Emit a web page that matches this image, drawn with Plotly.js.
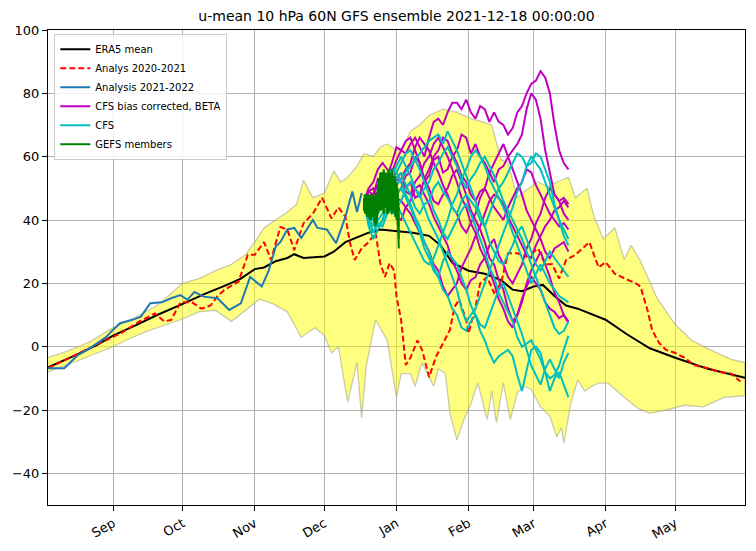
<!DOCTYPE html>
<html><head><meta charset="utf-8">
<script src="https://cdn.plot.ly/plotly-3.0.1.min.js"></script>
<style>html,body{margin:0;padding:0;background:#fff}#chart{width:756px;height:551px}</style>
</head><body><div id="chart"></div>
<script>
const titleText = "u-mean 10 hPa 60N GFS ensemble 2021-12-18 00:00:00";
const seriesNames = ["ERA5 mean","Analys 2020-2021","Analysis 2021-2022","CFS bias corrected, BETA","CFS","GEFS members"];
const monthTickVals = ["2021-09-01","2021-10-01","2021-11-01","2021-12-01","2022-01-01","2022-02-01","2022-03-01","2022-04-01","2022-05-01"];
const monthTickText = ["Sep","Oct","Nov","Dec","Jan","Feb","Mar","Apr","May"];
const yTickVals = [-40,-20,0,20,40,60,80,100];

const bandUpper = [["2021-08-04",-3.5],["2021-08-12",-1.5],["2021-08-22",1.5],["2021-09-01",6],["2021-09-10",9],["2021-09-20",13],["2021-10-01",20],["2021-10-08",21.5],["2021-10-15",24],["2021-10-22",26],["2021-10-28",29],["2021-11-01",33],["2021-11-05",37.5],["2021-11-10",40],["2021-11-15",42.5],["2021-11-19",45],["2021-11-22",52.5],["2021-11-26",47],["2021-12-01",48.5],["2021-12-05",55.5],["2021-12-08",52],["2021-12-11",53.5],["2021-12-15",57],["2021-12-18",61],["2021-12-22",60],["2021-12-25",63],["2021-12-28",64],["2022-01-01",62],["2022-01-04",63],["2022-01-07",68],["2022-01-11",70],["2022-01-15",73],["2022-01-21",75],["2022-01-27",74],["2022-02-02",72],["2022-02-07",71],["2022-02-11",70],["2022-02-15",59],["2022-02-18",58],["2022-02-22",47],["2022-02-25",49],["2022-03-03",52],["2022-03-07",50.5],["2022-03-11",52],["2022-03-16",53.5],["2022-03-19",47],["2022-03-24",50],["2022-03-27",41],["2022-03-31",34],["2022-04-05",37.5],["2022-04-09",27.5],["2022-04-12",32],["2022-04-16",27],["2022-04-20",20.5],["2022-04-23",15.5],["2022-05-01",7],["2022-05-08",2],["2022-05-16",-1],["2022-05-25",-4],["2022-05-31",-5]];
const bandLower = [["2021-08-04",-8],["2021-08-15",-5],["2021-08-25",-2],["2021-09-01",0],["2021-09-08",2.5],["2021-09-16",5],["2021-09-24",7],["2021-09-30",8.5],["2021-10-08",11],["2021-10-15",11.5],["2021-10-22",8],["2021-10-28",11.5],["2021-11-03",15],["2021-11-09",13.5],["2021-11-15",11],["2021-11-21",3],["2021-11-27",6],["2021-12-01",3.5],["2021-12-04",-2],["2021-12-07",0],["2021-12-11",-17.5],["2021-12-15",-5],["2021-12-17",-22.5],["2021-12-19",-6],["2021-12-23",8.5],["2021-12-28",2],["2022-01-01",-16],["2022-01-03",-8.5],["2022-01-07",-8.5],["2022-01-09",-12.5],["2022-01-12",-5],["2022-01-17",-12.5],["2022-01-19",-7],["2022-01-22",-8.5],["2022-01-24",-21],["2022-01-27",-29.5],["2022-01-30",-23],["2022-02-02",-18],["2022-02-05",-11.5],["2022-02-09",-23],["2022-02-11",-14],["2022-02-13",-24],["2022-02-16",-11.5],["2022-02-19",-23],["2022-02-22",-14.5],["2022-02-25",-12.5],["2022-02-28",-13.5],["2022-03-04",-19],["2022-03-08",-22],["2022-03-11",-28.5],["2022-03-13",-25.5],["2022-03-14",-30.5],["2022-03-17",-18],["2022-03-20",-10.5],["2022-03-23",-14],["2022-03-26",-12.5],["2022-03-29",-11.5],["2022-04-02",-11.5],["2022-04-09",-16],["2022-04-15",-19.5],["2022-04-20",-21],["2022-04-27",-20],["2022-05-05",-18.5],["2022-05-13",-19],["2022-05-22",-16],["2022-05-31",-15.5]];

const era5Mean = [["2021-08-04",-6.5],["2021-08-15",-3],["2021-08-25",0.5],["2021-09-01",3.5],["2021-09-10",6.5],["2021-09-20",10],["2021-10-01",13.5],["2021-10-10",16.5],["2021-10-20",19.5],["2021-10-26",21.5],["2021-11-01",24.5],["2021-11-05",25],["2021-11-10",27],["2021-11-15",28],["2021-11-18",29.2],["2021-11-22",28],["2021-12-01",28.5],["2021-12-05",30],["2021-12-10",33],["2021-12-15",34.5],["2021-12-20",36],["2021-12-25",37],["2022-01-01",36.5],["2022-01-08",36],["2022-01-15",35],["2022-01-20",32],["2022-01-25",26.5],["2022-02-01",24],["2022-02-08",23],["2022-02-15",21],["2022-02-20",18],["2022-02-24",17.5],["2022-03-01",19],["2022-03-05",19.5],["2022-03-10",16],["2022-03-15",13],["2022-03-20",12],["2022-04-01",8.5],["2022-04-10",4],["2022-04-20",-0.5],["2022-05-01",-3.5],["2022-05-15",-7],["2022-05-31",-9.8]];

const analys2020 = [["2021-08-04",-6.8],["2021-08-12",-4],["2021-08-21",-1],["2021-09-01",3],["2021-09-05",4.5],["2021-09-12",7.8],["2021-09-19",10.5],["2021-09-23",8],["2021-09-26",8.4],["2021-09-30",14],["2021-10-05",14],["2021-10-09",12],["2021-10-13",13],["2021-10-16",16],["2021-10-19",18],["2021-10-25",20.5],["2021-10-29",29],["2021-11-01",29],["2021-11-05",33],["2021-11-08",27.4],["2021-11-12",37.8],["2021-11-15",37],["2021-11-18",30.5],["2021-11-22",39],["2021-11-26",42],["2021-11-30",47],["2021-12-04",40.5],["2021-12-07",44],["2021-12-10",41],["2021-12-12",32.7],["2021-12-14",27.4],["2021-12-17",31],["2021-12-20",33],["2021-12-23",36],["2021-12-25",26.4],["2021-12-27",22],["2021-12-29",26.4],["2021-12-31",24],["2022-01-01",15.8],["2022-01-03",8.4],["2022-01-05",-5.8],["2022-01-07",-3.5],["2022-01-10",2],["2022-01-12",-1],["2022-01-15",-9.6],["2022-01-18",-3.2],["2022-01-21",1.2],["2022-01-24",5.3],["2022-01-26",12.6],["2022-01-28",14.8],["2022-01-31",8.4],["2022-02-01",4.2],["2022-02-04",12.6],["2022-02-06",20],["2022-02-09",22],["2022-02-12",17],["2022-02-15",20],["2022-02-18",29.5],["2022-02-22",29.5],["2022-02-26",28.4],["2022-03-03",31],["2022-03-06",26],["2022-03-09",26],["2022-03-12",21.5],["2022-03-15",27.4],["2022-03-19",29],["2022-03-22",31],["2022-03-25",33],["2022-03-28",27],["2022-03-29",25],["2022-04-01",26.7],["2022-04-05",23],["2022-04-09",21.6],["2022-04-14",20],["2022-04-16",19],["2022-04-19",11.6],["2022-04-21",5.3],["2022-04-24",1.2],["2022-04-27",-1],["2022-05-01",-2],["2022-05-05",-3.5],["2022-05-09",-5.8],["2022-05-15",-6.8],["2022-05-20",-8],["2022-05-25",-8.5],["2022-05-29",-11]];

const analysis2021 = [["2021-08-04",-6.8],["2021-08-11",-6.8],["2021-08-17",-2.6],["2021-08-21",-1],["2021-08-24",0.5],["2021-08-29",3],["2021-08-31",4.6],["2021-09-04",7.4],["2021-09-09",8.4],["2021-09-13",9.5],["2021-09-17",13.7],["2021-09-22",14],["2021-09-26",15.3],["2021-09-30",16.3],["2021-10-03",14.8],["2021-10-06",17.3],["2021-10-10",15.8],["2021-10-16",15.3],["2021-10-21",11.6],["2021-10-26",13.7],["2021-10-30",22],["2021-11-04",19],["2021-11-07",24],["2021-11-10",31.6],["2021-11-12",33],["2021-11-15",37],["2021-11-18",37.5],["2021-11-21",34.3],["2021-11-26",40],["2021-11-28",37.5],["2021-12-02",37],["2021-12-06",32.7],["2021-12-10",41],["2021-12-13",49],["2021-12-15",42.5],["2021-12-17",48.5]];

const fcDates = ["2021-12-18","2021-12-20","2021-12-22","2021-12-24","2021-12-26","2021-12-28","2021-12-30","2022-01-01","2022-01-03","2022-01-05","2022-01-07","2022-01-09","2022-01-11","2022-01-13","2022-01-15","2022-01-17","2022-01-19","2022-01-21","2022-01-23","2022-01-25","2022-01-27","2022-01-29","2022-01-31","2022-02-02","2022-02-04","2022-02-06","2022-02-08","2022-02-10","2022-02-12","2022-02-14","2022-02-16","2022-02-18","2022-02-20","2022-02-22","2022-02-24","2022-02-26","2022-02-28","2022-03-02","2022-03-04","2022-03-06","2022-03-08","2022-03-10","2022-03-12","2022-03-14","2022-03-16"];
const cfsBc1 = [45,49,48,53,52,54,58,63,62,61,64,66,63,60,66,71,72,70,74,77,77,75,78,74,72,76,75,71,74,71,70,67,69,74,76,80,83,84,87,85,80,70,62,58,56];
const cfsBc2 = [44,40,42,46,47,50,52,48,50,54,55,60,58,52,54,59,60,55,56,60,62,67,66,61,64,60,58,55,52,56,57,60,62,64,67,75,80,78,72,62,55,48,46,47,45];
const cfsBc3 = [46,49,50,46,45,44,48,53,55,50,52,47,48,53,56,60,62,66,65,61,58,54,52,48,46,49,50,47,44,42,40,44,47,50,52,56,55,51,48,45,42,40,38,39,37];
const cfsBc4 = [45,44,42,46,48,45,44,41,40,44,46,50,51,48,45,41,38,35,32,27,24,20,18,21,22,26,28,24,20,15,12,8,6,10,15,19,22,20,18,14,12,11,9,10,7.5];
const cfsBc5 = [44,47,48,51,53,52,50,47,46,44,42,39,36,33,30,26,24,19,16,18,20,25,28,31,35,38,42,46,48,47,45,41,38,35,32,29,28,32,35,38,40,43,44,46,44];
const cfsBc6 = [46,50,52,56,58,56,55,59,62,65,66,62,58,53,50,46,45,48,50,54,56,52,48,43,40,37,33,28,26,21,18,12,8,10,14,20,24,27,30,26,22,17,14,10,8];
const cfsBc7 = [45,42,40,43,44,47,48,51,53,56,58,63,66,64,62,58,55,51,48,44,42,38,36,39,42,47,50,55,58,61,64,60,56,52,48,43,40,37,34,30,28,31,32,33,30];
const cfsBc8 = [44,47,46,49,50,54,56,53,52,49,48,52,54,58,60,64,66,63,60,56,52,47,44,39,36,31,28,32,34,29,26,22,20,23,26,31,34,39,42,47,50,48,46,42,40];
const cfs1 = [47,40,36,40,42,47,50,53,55,51,48,44,42,45,46,50,52,49,47,44,42,46,48,46,44,40,38,42,46,50,52,55,58,61,60,57,58,61,60,56,52,45,40,35,32];
const cfs2 = [46,42,40,46,50,54,56,55,52,48,45,41,38,33,30,25,22,18,16,12,10,6,5,8,10,5,2,-2,-5,-3,-2,-1,-3,-9,-14,-7,-1,0,-2,-8,-14,-10,-8,-12,-16];
const cfs3 = [45,41,38,42,45,49,52,55,58,61,62,59,56,52,48,43,40,36,34,37,40,43,45,42,38,34,30,25,22,17,14,11,8,3,0,1,2,-1,-4,-8,-10,-9,-6,-1,3.5];
const cfs4 = [48,44,42,38,40,44,47,51,53,55,57,59,61,63,65,66,67,64,68,65,62,58,54,50,46,42,38,33,30,27,26,29,32,36,38,34,30,26,24,27,30,28,26,24,22];
const cfs5 = [46,38,34,37,40,44,46,45,42,39,36,33,30,27,26,28,32,36,40,45,48,53,56,60,62,60,57,53,50,47,44,40,36,32,28,24,20,23,26,23,20,18,16,15,14];
const cfs6 = [47,45,44,47,48,45,42,44,46,50,52,50,48,44,40,37,34,30,26,22,18,12,8,10,12,16,20,24,28,32,36,40,44,49,52,57,60,58,56,52,48,44,40,37,34];
const cfs7 = [48,43,40,44,46,51,54,57,60,57,54,50,47,50,52,56,58,61,63,60,57,53,50,53,55,58,60,57,54,50,46,43,40,37,34,30,26,22,18,14,10,6,4,5,8];
const cfs8 = [46,40,36,39,38,42,44,48,50,47,44,40,36,31,28,24,22,27,30,28,26,22,18,13,10,7,6,10,14,18,20,16,12,8,4,-1,-6,-9,-12,-7,-4,-7,-10,-5,-2];

const gefsDates = ["2021-12-18 00:00","2021-12-18 12:00","2021-12-19 00:00","2021-12-19 12:00","2021-12-20 00:00","2021-12-20 12:00","2021-12-21 00:00","2021-12-21 12:00","2021-12-22 00:00","2021-12-22 12:00","2021-12-23 00:00","2021-12-23 12:00","2021-12-24 00:00","2021-12-24 12:00","2021-12-25 00:00","2021-12-25 12:00","2021-12-26 00:00","2021-12-26 12:00","2021-12-27 00:00","2021-12-27 12:00","2021-12-28 00:00","2021-12-28 12:00","2021-12-29 00:00","2021-12-29 12:00","2021-12-30 00:00","2021-12-30 12:00","2021-12-31 00:00","2021-12-31 12:00","2022-01-01 00:00","2022-01-01 12:00","2022-01-02 00:00"];
const gefs1 = [45,47,43,46,42,48,44,41,46,43,40,45,50,44,52,47,55,49,44,53,47,56,50,45,52,48,44,50,43,46,38];
const gefs2 = [44,42,46,44,48,43,47,45,41,44,48,42,46,51,45,55,48,42,50,54,46,51,43,55,47,52,45,41,48,42,44];
const gefs3 = [46,44,42,47,45,41,43,48,44,39,42,47,43,53,49,45,52,56,48,44,51,46,53,48,42,50,54,46,40,44,31];
const gefs4 = [43,46,45,42,47,44,40,43,47,45,38,44,49,46,55,50,45,49,53,47,42,49,55,50,44,47,51,43,47,39,36];
const gefs5 = [47,45,48,43,41,46,45,42,45,47,43,40,47,52,48,43,50,46,55,49,53,44,48,52,56,45,48,53,45,41,40];
const gefs6 = [44,48,44,45,43,40,46,44,42,46,45,48,42,47,51,46,54,44,47,51,45,53,47,43,49,54,46,49,51,47,43];
const gefs7 = [45,43,47,41,45,43,48,46,43,41,47,44,45,49,43,48,52,55,46,50,48,42,51,47,53,44,49,47,42,50,34];
const gefs8 = [46,44,42,46,44,47,42,45,48,42,44,39,48,45,50,53,47,51,49,45,55,50,44,49,46,51,42,48,52,45,41];

const cfsBcMembers = [cfsBc1,cfsBc2,cfsBc3,cfsBc4,cfsBc5,cfsBc6,cfsBc7,cfsBc8];
const cfsMembers = [cfs1,cfs2,cfs3,cfs4,cfs5,cfs6,cfs7,cfs8];
const gefsMembers = [gefs1,gefs2,gefs3,gefs4,gefs5,gefs6,gefs7,gefs8];

const traces = [];
const bx = bandUpper.map(p=>p[0]).concat(bandLower.slice().reverse().map(p=>p[0]));
const by = bandUpper.map(p=>p[1]).concat(bandLower.slice().reverse().map(p=>p[1]));
traces.push({x:bx,y:by,type:'scatter',mode:'lines',fill:'toself',fillcolor:'rgba(255,255,0,0.5)',
  line:{color:'rgba(160,160,140,0.55)',width:1.3},showlegend:false,hoverinfo:'skip'});

function lineTrace(pairs,name,color,dash,rank){
  return {x:pairs.map(p=>p[0]),y:pairs.map(p=>p[1]),type:'scatter',mode:'lines',name:name,
    line:{color:color,width:2,dash:dash||'solid'},legendrank:rank};
}
traces.push(lineTrace(era5Mean,seriesNames[0],'#000000',null,1));
traces.push(lineTrace(analys2020,seriesNames[1],'#ff0000','6px,3px',2));
traces.push(lineTrace(analysis2021,seriesNames[2],'#1f77b4',null,3));
cfsBcMembers.forEach((m,i)=>traces.push({x:fcDates,y:m,type:'scatter',mode:'lines',name:seriesNames[3],
  legendgroup:'bc',showlegend:i===0,legendrank:4,line:{color:'#bf00bf',width:2}}));
cfsMembers.forEach((m,i)=>traces.push({x:fcDates,y:m,type:'scatter',mode:'lines',name:seriesNames[4],
  legendgroup:'cfs',showlegend:i===0,legendrank:5,line:{color:'#00bfbf',width:2}}));
gefsMembers.forEach((m,i)=>traces.push({x:gefsDates,y:m,type:'scatter',mode:'lines',name:seriesNames[5],
  legendgroup:'gefs',showlegend:i===0,legendrank:6,line:{color:'#008000',width:2}}));

const layout = {
  width:756,height:551,
  margin:{l:48,r:11,t:30,b:46},
  paper_bgcolor:'#fff',plot_bgcolor:'#fff',
  font:{family:'DejaVu Sans, sans-serif',size:13,color:'#000'},
  title:{text:titleText,font:{size:14,family:'DejaVu Sans, sans-serif'},x:0.5,xref:'paper',xanchor:'center',y:0.971,yref:'container',yanchor:'middle'},
  xaxis:{type:'date',range:['2021-08-04','2022-05-31'],tickmode:'array',tickvals:monthTickVals,ticktext:monthTickText,
    tickangle:-30,ticks:'outside',ticklen:5,tickcolor:'#000',showgrid:true,gridcolor:'#b0b0b0',gridwidth:1,
    showline:true,linecolor:'#000',linewidth:1,mirror:true,zeroline:false,tickfont:{size:13}},
  yaxis:{range:[-50,100],tickmode:'array',tickvals:yTickVals,ticks:'outside',ticklen:5,tickcolor:'#000',
    showgrid:true,gridcolor:'#b0b0b0',gridwidth:1,showline:true,linecolor:'#000',linewidth:1,mirror:true,zeroline:false,tickfont:{size:13}},
  legend:{x:0.009,y:0.992,xanchor:'left',yanchor:'top',bgcolor:'rgba(255,255,255,0.85)',bordercolor:'#cccccc',borderwidth:1,
    font:{size:10},tracegroupgap:0,itemwidth:30},
  showlegend:true
};
Plotly.newPlot('chart',traces,layout,{displayModeBar:false,staticPlot:true});
</script></body></html>
